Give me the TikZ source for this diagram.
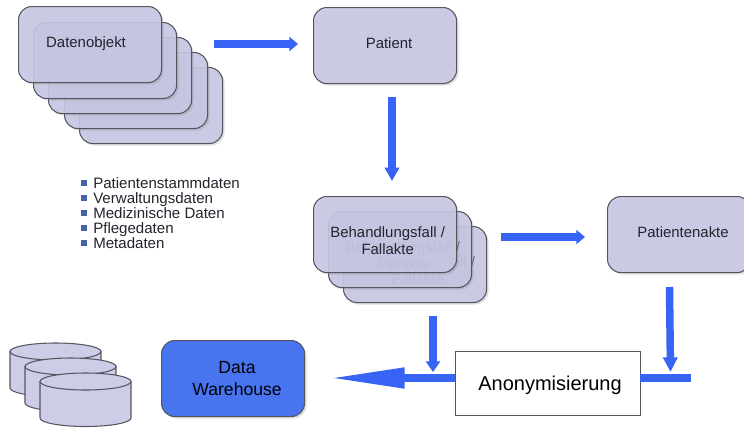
\documentclass[tikz,border=0pt]{standalone}
\usepackage{fontspec}
\setmainfont{Liberation Sans}
\usepackage{xcolor}
\usetikzlibrary{positioning, arrows.meta, shadows}
\definecolor{box-lila}{RGB}{200, 200, 230}
\definecolor{line-gray}{RGB}{85, 85, 95}
\definecolor{arr-blue}{RGB}{56, 100, 245}
\definecolor{dw-blue}{RGB}{72, 116, 240}
\definecolor{bullet-blue}{RGB}{70, 100, 170}
\definecolor{text-gray}{RGB}{35, 35, 45}
\newcommand{\offtext}[3]{\makebox[0pt]{\hspace*{#1}\raisebox{#2}[0pt][0pt]{#3}}}
\newcommand{\falltext}{\begin{tabular}{@{}c@{}}Behandlungsfall /\\[-.5pt]Fallakte\end{tabular}}

\begin{document}
\begin{tikzpicture}[x=.75pt, y=-.75pt]
	\tikzset{card/.style={rectangle, draw=line-gray, line width=.8pt, fill=box-lila, fill opacity=.88, text opacity=1, text=text-gray, rounded corners=10pt, minimum width=107.25pt, minimum height=57pt, anchor=north west, inner sep=0pt, font=\fontsize{11.2pt}{13.5pt}\selectfont, drop shadow={shadow xshift=1.5pt, shadow yshift=-1.5pt, opacity=.25}}}
	\tikzset{arr/.style={-{Triangle[length=#1, width=10.5pt]}, line width=5.6pt, arr-blue}, arr/.default=6.5pt}
	\tikzset{dbcan/.style={draw=line-gray, line width=.8pt, fill=box-lila!90!white}}
	\tikzset{listitem/.style={anchor=base west, inner sep=0pt, text=text-gray, font=\fontsize{11.3pt}{11.3pt}\selectfont}}
	\tikzset{listmark/.style={rectangle, fill=bullet-blue, minimum size=4.5pt, inner sep=0pt}}

	\useasboundingbox (0,0) rectangle (744,430);

	% Datenobjekt stack
	\foreach \i/\x/\y in {5/79/67, 4/64/52, 3/48/37, 2/33/22}
		\node[card] (obj\i) at (\x,\y) {};
	\node[card] (obj1) at (18,6) {\offtext{-6pt}{-2pt}{Datenobjekt}};

	% list
	\foreach \i/\y/\t in {1/183/Patientenstammdaten, 2/198/Verwaltungsdaten, 3/213/Medizinische Daten, 4/228/Pflegedaten, 5/243/Metadaten} {
		\node[listmark] (mark\i) at (84,\y) {};
		\node[listitem] (item\i) at (93,\y+5) {\t};
	}

	\node[card] (patient) at (313,7) {\offtext{6pt}{-2pt}{Patient}};

	% Behandlungsfall stack
	\node[card, text=text-gray!70] (fall3) at (343,226) {\offtext{4pt}{-8.5pt}{\falltext}};
	\node[card, text=text-gray!70] (fall2) at (328,211) {\offtext{4pt}{-8.5pt}{\falltext}};
	\node[card] (fall1) at (313,196) {\offtext{4pt}{-8.5pt}{\falltext}};

	\node[card] (akte) at (607,196) {\offtext{6pt}{-2pt}{Patientenakte}};

	\node[rectangle, draw=line-gray, line width=.8pt, fill=white, minimum width=138.75pt, minimum height=48pt, anchor=north west, inner sep=0pt, font=\fontsize{15pt}{15pt}\selectfont] (anon) at (455,351) {\offtext{3pt}{-5pt}{Anonymisierung}};

	\node[card, fill=dw-blue, fill opacity=1, text=black, font=\fontsize{13.2pt}{16.5pt}\selectfont] (dw) at (161,340) {\offtext{6pt}{-4pt}{\begin{tabular}{@{}c@{}}Data\\Warehouse\end{tabular}}};

	% Datenbanken
	\foreach \x/\y in {10/343, 25/358, 40/373} {
		\draw[dbcan] (\x,\y+8.5) -- (\x,\y+45) arc[start angle=180, end angle=0, x radius=45.5, y radius=8.5] -- (\x+91,\y+8.5) -- cycle;
		\draw[dbcan] (\x+45.5,\y+8.5) ellipse [x radius=45.5, y radius=8.5];
	}

	% free ends
	\coordinate (objout) at (214,44);
	\coordinate (patin) at (298,44);
	\coordinate (patout) at (392,97);
	\coordinate (fallin) at (392,181);
	\coordinate (fallout) at (501,237);
	\coordinate (akin) at (585,237);
	\coordinate (akout) at (669.5,287);
	\coordinate (stubtop) at (670.5,372);
	\coordinate (falldown) at (433,316);
	\coordinate (leftin) at (433,372);
	\coordinate (anonl) at (455,378);
	\coordinate (dwin) at (326,378);
	\coordinate (anonr) at (640,378);
	\coordinate (stubend) at (691,378);

	\draw[arr] (objout) -- (patin);
	\draw[arr=10pt] (patout) -- (fallin);
	\draw[arr] (fallout) -- (akin);
	\draw[arr=11pt] (akout) -- (stubtop);
	\draw[arr=8pt] (falldown) -- (leftin);
	\draw[-{Triangle[length=59pt, width=14pt]}, line width=6.6pt, arr-blue] (anonl) -- (dwin);
	\draw[line width=6.6pt, arr-blue] (anonr) -- (stubend);
\end{tikzpicture}
\end{document}
